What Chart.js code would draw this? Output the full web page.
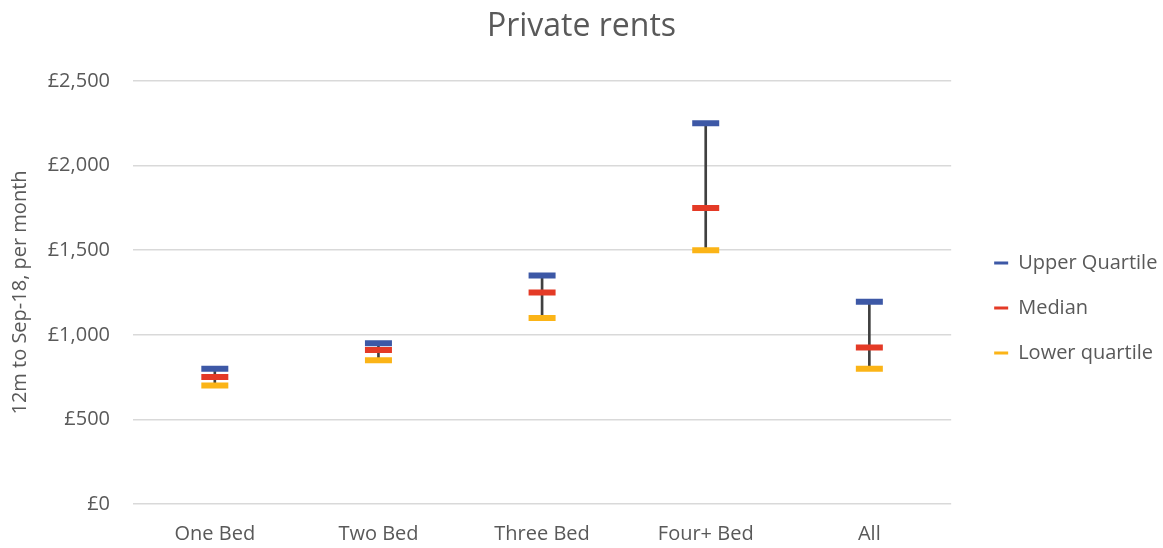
<!DOCTYPE html>
<html>
<head>
<meta charset="utf-8">
<script src="https://cdn.jsdelivr.net/npm/chart.js@4"></script>
<style>
  html, body { margin: 0; padding: 0; background: #fff; }
  #wrap { width: 1163px; height: 548px; }
</style>
</head>
<body>
<div id="wrap"><canvas id="c" width="1163" height="548"></canvas></div>
<script>
const categories = ['One Bed', 'Two Bed', 'Three Bed', 'Four+ Bed', 'All'];
const upperQuartile = [800, 950, 1350, 2250, 1195];
const median = [750, 910, 1250, 1750, 925];
const lowerQuartile = [700, 850, 1100, 1500, 800];
const yTicks = [0, 500, 1000, 1500, 2000, 2500];

const FONT = "'Open Sans', 'DejaVu Sans', sans-serif";
const TXT = '#595959';

const rangeData = lowerQuartile.map((lo, i) => [lo, upperQuartile[i]]);

function markerSet(label, data, color) {
  return {
    type: 'line',
    label: label,
    data: data,
    showLine: false,
    pointStyle: 'line',
    pointRadius: 13.5,
    pointHoverRadius: 13.5,
    pointBorderWidth: 6,
    pointHoverBorderWidth: 6,
    borderColor: color,
    backgroundColor: color,
    borderWidth: 6,
    order: 1
  };
}

new Chart(document.getElementById('c'), {
  type: 'bar',
  data: {
    labels: categories,
    datasets: [
      markerSet('Upper Quartile', upperQuartile, '#3D58A6'),
      markerSet('Median', median, '#E43A26'),
      markerSet('Lower quartile', lowerQuartile, '#FBB417'),
      {
        type: 'bar',
        label: 'range',
        data: rangeData,
        backgroundColor: '#404040',
        borderWidth: 0,
        barThickness: 2,
        order: 10,
        grouped: false
      }
    ]
  },
  options: {
    responsive: false,
    animation: false,
    events: [],
    layout: { padding: { left: 0, right: 0, top: 4, bottom: 0 } },
    plugins: {
      title: {
        display: true,
        text: 'Private rents',
        color: TXT,
        font: { family: FONT, size: 32, weight: 'normal' },
        padding: { top: 4, bottom: 34.6 }
      },
      legend: {
        position: 'right',
        align: 'center',
        title: { display: true, text: ' ', font: { size: 10 }, padding: { top: 26, bottom: 26 } },
        labels: {
          usePointStyle: true,
          pointStyleWidth: 14,
          boxHeight: 8,
          padding: 25,
          color: TXT,
          font: { family: FONT, size: 20 },
          filter: (item) => item.datasetIndex < 3,
          generateLabels: (chart) => {
            const items = Chart.defaults.plugins.legend.labels.generateLabels(chart);
            items.forEach(it => { it.lineWidth = 3; it.pointStyle = 'line'; });
            return items;
          }
        }
      },
      tooltip: { enabled: false }
    },
    scales: {
      x: {
        offset: true,
        grid: { display: false, drawTicks: true, tickLength: 16 },
        border: { display: false },
        ticks: { color: TXT, font: { family: FONT, size: 20 }, padding: 2 }
      },
      y: {
        min: 0,
        max: 2500,
        afterBuildTicks: (axis) => { axis.ticks = yTicks.map(v => ({ value: v })); },
        afterFit: (s) => { s.width = 133; },
        grid: { color: '#D9D9D9', lineWidth: 1.5, drawTicks: false },
        border: { display: false },
        ticks: {
          color: TXT,
          font: { family: FONT, size: 20 },
          padding: 23,
          callback: (v) => '£' + Number(v).toLocaleString('en-GB')
        },
        title: {
          display: true,
          text: '12m to Sep-18, per month',
          color: TXT,
          font: { family: FONT, size: 20 },
          padding: { top: 8, bottom: 0 }
        }
      },
      gap: {
        type: 'linear',
        position: 'right',
        display: true,
        grid: { display: false, drawTicks: false },
        border: { display: false },
        ticks: { display: false },
        afterFit: (s) => { s.width = 18; }
      }
    }
  }
});
</script>
</body>
</html>
